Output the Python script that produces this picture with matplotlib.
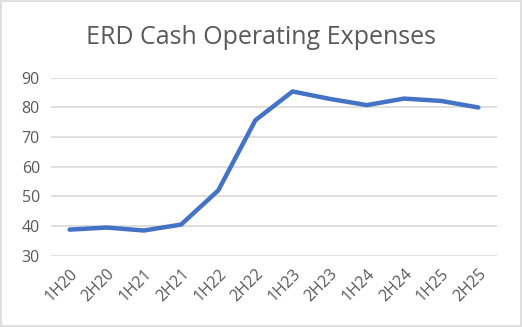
import matplotlib.pyplot as plt
import numpy as np

periods = ['1H20', '2H20', '1H21', '2H21', '1H22', '2H22',
           '1H23', '2H23', '1H24', '2H24', '1H25', '2H25']
expenses = [38.8, 39.5, 38.5, 40.5, 52.0, 75.7,
            85.4, 82.9, 80.8, 83.0, 82.2, 80.0]
y_ticks = [30, 40, 50, 60, 70, 80, 90]

plt.rcParams['font.family'] = ['Open Sans', 'DejaVu Sans']
grey = '#595959'

fig = plt.figure(figsize=(5.22, 3.27), dpi=100)
ax = fig.add_axes([0.0977, 0.218, 0.8543, 0.544])

x = np.arange(len(periods))
ax.plot(x, expenses, color='#4472C4', linewidth=3.2, solid_capstyle='round',
        solid_joinstyle='round', zorder=3)

ax.set_xlim(-0.5, len(periods) - 0.5)
ax.set_ylim(30, 90)
ax.set_yticks(y_ticks)
ax.set_xticks(x)
ax.set_xticklabels(periods, rotation=45, ha='right', rotation_mode='anchor')
ax.tick_params(axis='both', length=0, colors=grey, labelsize=11.5)
ax.tick_params(axis='x', pad=7)
ax.tick_params(axis='y', pad=8)
ax.grid(axis='y', color='#d9d9d9', linewidth=1.2)
ax.set_axisbelow(True)
for s in ax.spines.values():
    s.set_visible(False)

fig.text(0.5, 0.885, 'ERD Cash Operating Expenses', ha='center', va='center',
         fontsize=18, color=grey)

# outer chart border
fig.patches.append(plt.Rectangle((0.002, 0.003), 0.996, 0.994, transform=fig.transFigure,
                                 fill=False, edgecolor='#d9d9d9', linewidth=1.2))

fig.savefig('out.png', dpi=100)
